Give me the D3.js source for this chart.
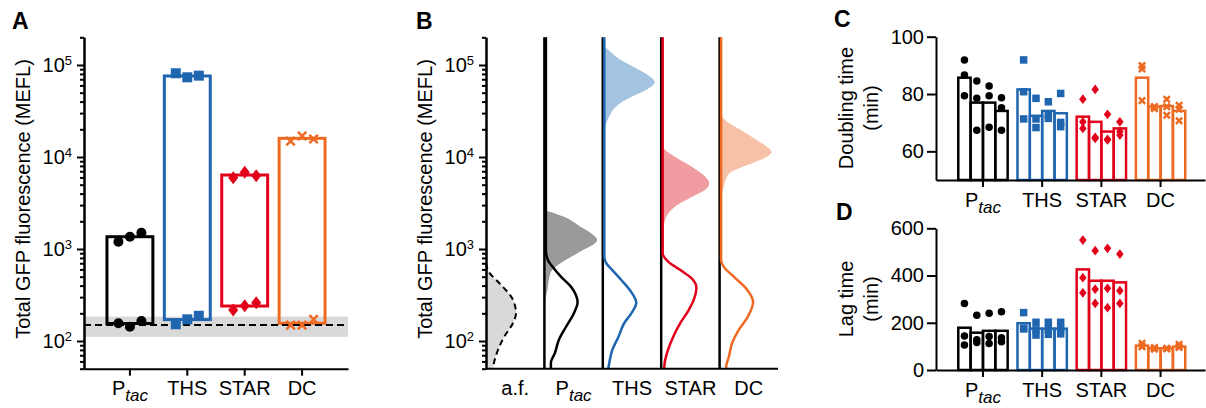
<!DOCTYPE html>
<html lang="en">
<head>
<meta charset="UTF-8">
<title>GFP fluorescence and growth</title>
<style>
  body { margin: 0; background: #fff; }
  text { font-family: "Liberation Sans", Arial, Helvetica, sans-serif; fill: #000; }
</style>
</head>
<body>
<script src="https://d3js.org/d3.v7.min.js"></script>
<script>
// ---------- data ----------
var groups = ["Ptac", "THS", "STAR", "DC"];
var lanes = ["a.f.", "Ptac", "THS", "STAR", "DC"];

// A: total GFP fluorescence (MEFL), 3 replicates, uninduced (off) / induced (on)
var fluorOffPts = [[156, 143, 165], [152, 172, 188], [217, 242, 261], [149, 149, 172]];
var fluorOnPts = [[1200, 1360, 1500], [81300, 73500, 76600], [5950, 6820, 6270], [14900, 16900, 15700]];
var fluorOffBar = [155, 171, 240, 156];
var fluorOnBar = [1360, 76000, 6370, 15950];
var afLevel = 149;
var afRange = [111, 184];

// B: single-cell distributions, [MEFL, density (a.u.)]
var afDist = [[700, 0], [560, 3], [430, 13], [280, 27], [200, 30], [157, 27], [110, 18], [80, 12], [58, 8], [50, 7]];
var ptacOn = [[2650, 0], [2250, 19], [1750, 36], [1500, 46], [1250, 52.7], [900, 33], [700, 16], [550, 6], [360, 3], [280, 1], [220, 0]];
var thsOn = [[165000, 0], [135000, 9], [113000, 18], [95000, 31], [78000, 45], [65000, 52], [55000, 45], [47000, 32], [40000, 20], [34000, 12], [27000, 6], [21000, 2.5], [13500, 1], [9300, 0]];
var starOn = [[14000, 0], [11900, 4], [10000, 14], [7800, 31], [6400, 42], [5200, 48], [4400, 44], [3700, 31], [2900, 14], [2100, 4], [1350, 1.5], [860, 0]];
var dcOn = [[32000, 0], [25000, 6], [20000, 20], [15300, 37], [13000, 47], [11300, 52], [9750, 45], [8600, 33], [7600, 20], [6700, 10], [4700, 4], [3400, 1.5], [2340, 0]];
var ptacOff = [[200000, 0], [975, 0], [760, 2], [640, 6.7], [500, 15], [390, 25], [316, 30], [265, 31.7], [200, 28], [142, 20], [103, 13], [74, 9], [58, 5], [50, 5]];
var thsOff = [[200000, 0], [820, 0], [700, 2], [590, 8], [460, 17], [340, 27], [260, 32], [200, 27], [157, 20], [110, 14], [80, 8], [58, 5], [50, 4]];
var starOff = [[200000, 0], [900, 0], [720, 6], [590, 17.7], [480, 29], [380, 33.7], [280, 31], [217, 26], [157, 17.7], [110, 10.3], [80, 5.3], [58, 2], [50, 1.5]];
var dcOff = [[200000, 0], [760, 0], [640, 2.7], [500, 12.7], [380, 24.3], [265, 32], [178, 26], [132, 17.7], [95, 11], [67, 7.7], [55, 5.3], [50, 5]];

// C: doubling time (min), 4 biological replicates x 3 technical
var doublingPts = [
  [[91.9, 86.6, 79.4], [84.5, 78.5, 67.4], [82.8, 79.4, 68.4], [78.7, 75.2, 67.4]],
  [[91.9, 80.8, 71.3], [78.5, 71.3, 68.3], [77.3, 72.7, 71.5], [80.2, 70.1, 68.6]],
  [[78.2, 70.3, 68.0], [81.6, 64.5, 64.9], [72.9, 64.0, 64.2], [70.3, 66.9, 65.7]],
  [[89.9, 88.7, 77.7], [75.6, 75.4, 74.9], [78.2, 75.6, 72.6], [76.1, 74.7, 70.7]]
];
var doublingBars = [[85.7, 77.0, 77.0, 74.1], [81.6, 72.4, 74.1, 73.3], [72.1, 70.3, 66.9, 68.0], [85.7, 75.6, 75.8, 74.1]];

// D: lag time (min)
var lagPts = [
  [[282, 144, 106], [232, 128, 116], [240, 142, 112], [247, 137, 120]],
  [[243, 177, 174], [202, 170, 148], [202, 172, 151], [202, 172, 153]],
  [[550, 391, 327], [505, 342, 282], [515, 346, 264], [491, 336, 282]],
  [[113, 99, 100], [95, 88, 92], [90, 92, 90], [109, 99, 95]]
];
var lagBars = [[179, 158, 166, 166], [198, 175, 175, 175], [426, 378, 378, 371], [103, 92, 92, 99]];

var logTicks = [100, 1000, 10000, 100000];
var doublingTicks = [60, 80, 100];
var lagTicks = [0, 200, 400, 600];

// ---------- styles ----------
var color = {Ptac: "#000000", THS: "#1f65b0", STAR: "#e2001a", DC: "#ee6a23"};
var fillOn = {Ptac: "#9a9a9a", THS: "#a4c3e0", STAR: "#f09ca1", DC: "#f6c1a6"};
var shape = {Ptac: "circle", THS: "square", STAR: "diamond", DC: "cross"};
var onDist = {Ptac: ptacOn, THS: thsOn, STAR: starOn, DC: dcOn};
var offDist = {Ptac: ptacOff, THS: thsOff, STAR: starOff, DC: dcOff};

var svg = d3.select("body").append("svg")
    .attr("width", 1206)
    .attr("height", 408);

function marker(g, type, x, y, s, col) {
    if (type == "circle") {
        g.append("circle").attr("cx", x).attr("cy", y).attr("r", s / 2).attr("fill", col);
    } else if (type == "square") {
        g.append("rect").attr("x", x - s / 2).attr("y", y - s / 2).attr("width", s).attr("height", s).attr("fill", col);
    } else if (type == "diamond") {
        var h = s * 0.65;
        g.append("path").attr("d", "M" + x + "," + (y - h) + "L" + (x + s / 2) + "," + y + "L" + x + "," + (y + h) + "L" + (x - s / 2) + "," + y + "Z").attr("fill", col);
    } else {
        var k = s * 0.42;
        g.append("path").attr("d", "M" + (x - k) + "," + (y - k) + "L" + (x + k) + "," + (y + k) + "M" + (x - k) + "," + (y + k) + "L" + (x + k) + "," + (y - k))
            .attr("stroke", col).attr("stroke-width", 2.5).attr("fill", "none");
    }
}

function styleAxis(g) {
    g.selectAll("path, line").attr("stroke", "#000").attr("stroke-width", 2);
    g.selectAll("text").attr("font-size", 20).attr("fill", "#000")
        .attr("font-family", '"Liberation Sans", Arial, Helvetica, sans-serif');
}

function catLabel(g, name, x, y) {
    var t = g.append("text").attr("x", x).attr("y", y).attr("text-anchor", "middle").attr("font-size", 20);
    if (name == "Ptac") {
        t.text("P");
        t.append("tspan").attr("font-style", "italic").attr("font-size", 17).attr("dy", 6).text("tac");
    } else {
        t.text(name);
    }
}

function yTitle(lines, x, y) {
    lines.forEach(function (s, i) {
        svg.append("text")
            .attr("transform", "translate(" + (x + i * 25) + "," + y + ") rotate(-90)")
            .attr("text-anchor", "middle").attr("font-size", 20).text(s);
    });
}

function panelLabel(s, x, y) {
    svg.append("text").attr("x", x).attr("y", y).attr("font-size", 23).attr("font-weight", "bold").text(s);
}

function logAxis(x0, y) {
    var minors = [];
    [10, 100, 1000, 10000, 100000].forEach(function (d) {
        for (var k = 2; k < 10; k++) {
            if (d * k >= 50 && d * k <= 200000) minors.push(d * k);
        }
    });
    var g = svg.append("g").attr("transform", "translate(" + x0 + ",0)");
    g.append("g").call(d3.axisLeft(y).tickValues(minors).tickSize(4).tickFormat("").tickSizeOuter(0));
    var maj = g.append("g").call(d3.axisLeft(y).tickValues(logTicks).tickSize(7).tickPadding(5).tickSizeOuter(0));
    styleAxis(g);
    maj.selectAll(".tick text").each(function (d) {
        var t = d3.select(this);
        t.text("10");
        t.append("tspan").attr("dy", -7).attr("font-size", 13).text(Math.round(Math.log10(d)));
    });
    return g;
}

// ---------- panel A ----------
var yA = d3.scaleLog().domain([50, 200000]).range([368.7, 37.3]);
var xA = d3.scaleBand().domain(groups).range([84, 348]).paddingInner(0.2).paddingOuter(0.4);
var gA = svg.append("g");

gA.append("rect")
    .attr("x", 84).attr("width", 264)
    .attr("y", yA(afRange[1])).attr("height", yA(afRange[0]) - yA(afRange[1]))
    .attr("fill", "#d9d9d9");

groups.forEach(function (g, i) {
    gA.append("rect")
        .attr("x", xA(g)).attr("width", xA.bandwidth())
        .attr("y", yA(fluorOnBar[i])).attr("height", yA(fluorOffBar[i]) - yA(fluorOnBar[i]))
        .attr("fill", "none").attr("stroke", color[g]).attr("stroke-width", 3);
});

gA.append("line")
    .attr("x1", 84).attr("x2", 348).attr("y1", yA(afLevel)).attr("y2", yA(afLevel))
    .attr("stroke", "#000").attr("stroke-width", 2).attr("stroke-dasharray", "7,4");

groups.forEach(function (g, i) {
    var c = xA(g) + xA.bandwidth() / 2;
    [-11.5, 0, 11.5].forEach(function (dx, j) {
        marker(gA, shape[g], c + dx, yA(fluorOnPts[i][j]), 10, color[g]);
        marker(gA, shape[g], c + dx, yA(fluorOffPts[i][j]), 10, color[g]);
    });
});

logAxis(84, yA);
var axA = svg.append("g").attr("transform", "translate(0,368.7)")
    .call(d3.axisBottom(xA).tickSize(7).tickFormat("").tickSizeOuter(0));
styleAxis(axA);
groups.forEach(function (g) { catLabel(svg, g, xA(g) + xA.bandwidth() / 2, 395); });
yTitle(["Total GFP fluorescence (MEFL)"], 29.5, 199);
panelLabel("A", 12, 29);

// ---------- panel B ----------
var yB = yA.copy();
var xB = d3.scaleBand().domain(lanes).range([486, 778]);
var dens = d3.scaleLinear().domain([0, 58.4]).range([0, xB.step()]);
var gB = svg.append("g");

var x0af = xB("a.f.");
gB.append("path")
    .attr("d", d3.area().curve(d3.curveMonotoneY)
        .y(function (d) { return yB(d[0]); })
        .x0(x0af).x1(function (d) { return x0af + dens(d[1]); })(afDist))
    .attr("fill", "#d9d9d9");
gB.append("path")
    .attr("d", d3.line().curve(d3.curveMonotoneY)
        .y(function (d) { return yB(d[0]); })
        .x(function (d) { return x0af + dens(d[1]); })(afDist))
    .attr("fill", "none").attr("stroke", "#000").attr("stroke-width", 2).attr("stroke-dasharray", "6,4");

groups.forEach(function (g) {
    var b = xB(g);
    gB.append("path")
        .attr("d", d3.area().curve(d3.curveMonotoneY)
            .y(function (d) { return yB(d[0]); })
            .x0(b).x1(function (d) { return b + dens(d[1]); })(onDist[g]))
        .attr("fill", fillOn[g]);
    gB.append("line")
        .attr("x1", b).attr("x2", b).attr("y1", yB(200000)).attr("y2", yB(50))
        .attr("stroke", "#000").attr("stroke-width", 2.5);
    gB.append("path")
        .attr("d", d3.line().curve(d3.curveMonotoneY)
            .y(function (d) { return yB(d[0]); })
            .x(function (d) { return b + 1.5 + dens(d[1]); })(offDist[g]))
        .attr("fill", "none").attr("stroke", color[g]).attr("stroke-width", 2.5).attr("stroke-linejoin", "round");
});

logAxis(486, yB);
gB.append("line").attr("x1", 486).attr("x2", 778).attr("y1", 368.7).attr("y2", 368.7)
    .attr("stroke", "#000").attr("stroke-width", 2);
lanes.forEach(function (l) { catLabel(svg, l, xB(l) + xB.bandwidth() / 2, 395); });
yTitle(["Total GFP fluorescence (MEFL)"], 431.5, 199);
panelLabel("B", 416, 29);

// ---------- panels C and D ----------
var xCD = d3.scaleBand().domain(groups).range([936, 1205]).paddingInner(0.166).paddingOuter(0.355).align(0.53);
var sub = d3.scaleBand().domain([0, 1, 2, 3]).range([0, xCD.bandwidth()]);

function barPanel(y, y0, bars, pts, ticks, labelY) {
    var g = svg.append("g");
    groups.forEach(function (name, i) {
        bars[i].forEach(function (v, k) {
            g.append("rect")
                .attr("x", xCD(name) + sub(k)).attr("width", sub.bandwidth())
                .attr("y", y(v)).attr("height", y(y0) - y(v))
                .attr("fill", "none").attr("stroke", color[name]).attr("stroke-width", 2.5);
        });
    });
    groups.forEach(function (name, i) {
        pts[i].forEach(function (rep, k) {
            var cx = xCD(name) + sub(k) + sub.bandwidth() / 2;
            rep.forEach(function (v) { marker(g, shape[name], cx, y(v), 7.5, color[name]); });
        });
    });
    var ay = svg.append("g").attr("transform", "translate(936,0)")
        .call(d3.axisLeft(y).tickValues(ticks).tickSize(9).tickPadding(3).tickSizeOuter(0));
    styleAxis(ay);
    var ax = svg.append("g").attr("transform", "translate(0," + y(y0) + ")")
        .call(d3.axisBottom(xCD).tickSize(7).tickFormat("").tickSizeOuter(0));
    styleAxis(ax);
    groups.forEach(function (name) { catLabel(svg, name, xCD(name) + xCD.bandwidth() / 2, labelY); });
}

var yC = d3.scaleLinear().domain([50, 100]).range([180, 36.7]);
barPanel(yC, 50, doublingBars, doublingPts, doublingTicks, 207);
yTitle(["Doubling time", "(min)"], 852.5, 108);
panelLabel("C", 834, 27);

var yD = d3.scaleLinear().domain([0, 600]).range([370, 228.3]);
barPanel(yD, 0, lagBars, lagPts, lagTicks, 397);
yTitle(["Lag time", "(min)"], 852.5, 299);
panelLabel("D", 836, 220);
</script>
</body>
</html>
